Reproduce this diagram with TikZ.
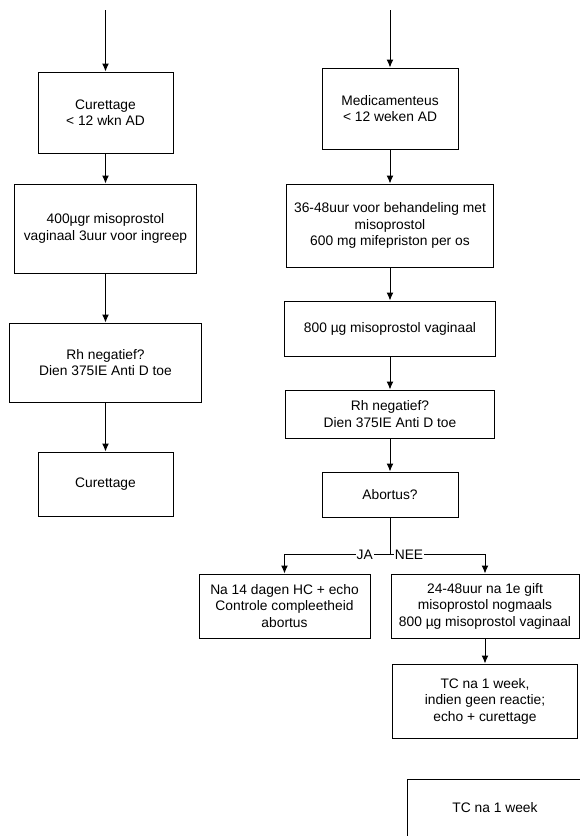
\documentclass[tikz,border=0pt]{standalone}
\usepackage{fontspec}
\setmainfont{Liberation Sans}
\usepackage{tikz}
\usetikzlibrary{arrows.meta,positioning}

\begin{document}
\begin{tikzpicture}[x=1pt, y=1pt, line width=1pt, >={Latex[length=8pt,width=7pt]},
    stap/.style={rectangle, draw, align=center, inner sep=2pt, font=\fontsize{13.8}{16.5}\selectfont},
    keuze/.style={fill=white, inner sep=1pt, font=\fontsize{13.8}{16.5}\selectfont}]
    \useasboundingbox (0,0) rectangle (580,-836);
    \clip (0,0) rectangle (580,-836);

    % Curettage route
    \coordinate (inl) at (105.5,-10);
    \node[stap, minimum width=135pt, minimum height=81pt] (cur1) at (105.5,-112.5) {Curettage\\< 12 wkn AD};
    \node[stap, minimum width=182pt, minimum height=89pt, below=30pt of cur1] (miso) {400µgr misoprostol\\vaginaal 3uur voor ingreep};
    \node[stap, minimum width=192pt, minimum height=79pt, below=49pt of miso] (rhl) {Rh negatief?\\Dien 375IE Anti D toe};
    \node[stap, minimum width=135pt, minimum height=64pt, below=49pt of rhl] (cur2) {Curettage};

    % Medicamenteuze route
    \coordinate (inr) at (390,-10);
    \node[stap, minimum width=136pt, minimum height=81pt] (med) at (390,-108.5) {Medicamenteus\\< 12 weken AD};
    \node[stap, minimum width=207pt, minimum height=83pt, below=34pt of med] (mife) {36-48uur voor behandeling met\\misoprostol\\600 mg mifepriston per os};
    \node[stap, minimum width=211pt, minimum height=55pt, below=33pt of mife] (miso800) {800 µg misoprostol vaginaal};
    \node[stap, minimum width=209pt, minimum height=48pt, below=33pt of miso800] (rhr) {Rh negatief?\\Dien 375IE Anti D toe};
    \node[stap, minimum width=136pt, minimum height=45pt, below=33pt of rhr] (abort) {Abortus?};
    \coordinate[below=37pt of abort] (splits);

    \node[stap, minimum width=171pt, minimum height=64pt] (ja) at (284.5,-606) {Na 14 dagen HC + echo\\Controle compleetheid\\abortus};
    \node[stap, minimum width=188pt, minimum height=64pt] (nee) at (485,-606) {24-48uur na 1e gift\\misoprostol nogmaals\\800 µg misoprostol vaginaal};
    \node[stap, minimum width=185pt, minimum height=74pt, below=25pt of nee] (tc1) {TC na 1 week,\\indien geen reactie;\\echo + curettage};
    \node[stap, minimum width=176pt, minimum height=58pt] (tc2) at (495,-808) {TC na 1 week};

    \draw[->] (inl) -- (cur1);
    \draw[->] (cur1) -- (miso);
    \draw[->] (miso) -- (rhl);
    \draw[->] (rhl) -- (cur2);

    \draw[->] (inr) -- (med);
    \draw[->] (med) -- (mife);
    \draw[->] (mife) -- (miso800);
    \draw[->] (miso800) -- (rhr);
    \draw[->] (rhr) -- (abort);
    \draw (abort) -- (splits);
    \draw[->] (splits) -| node[keuze, pos=0.12] {JA} (ja);
    \draw[->] (splits) -| node[keuze, pos=0.1] {NEE} (nee);
    \draw[->] (nee) -- (tc1);
\end{tikzpicture}
\end{document}
